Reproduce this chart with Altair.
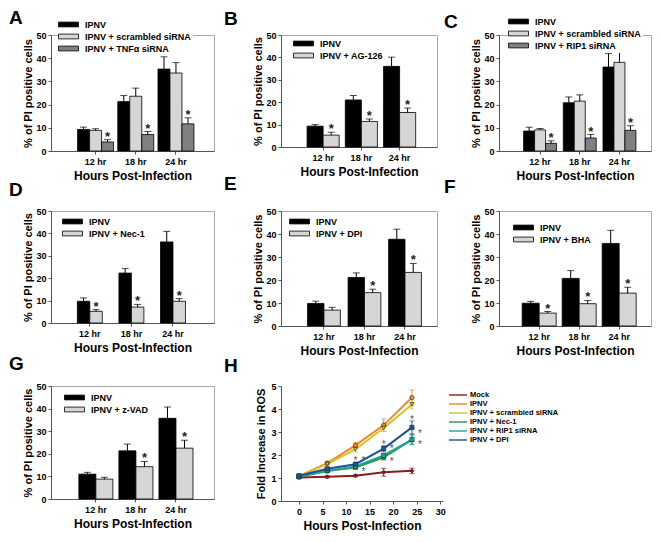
import altair as alt
import pandas as pd

FONT = "Liberation Sans"
times = ["12 hr", "18 hr", "24 hr"]
C_BLACK, C_LIGHT, C_DARK = "#000000", "#d6d6d6", "#808080"

# ---------------- Panel data (values = bar heights, err = upper error) ----------------
A_series = ["IPNV", "IPNV + scrambled siRNA", "IPNV + TNFα siRNA"]
A_ipnv = [9.3, 21.3, 35.3]
A_ipnv_err = [1.0, 2.6, 5.3]
A_scr = [8.9, 23.6, 33.6]
A_scr_err = [0.7, 3.5, 4.5]
A_trt = [3.9, 7.1, 11.7]
A_trt_err = [1.0, 1.3, 2.6]
A_star = [1, 1, 1]

B_series = ["IPNV", "IPNV + AG-126"]
B_ipnv = [9.3, 21.0, 36.0]
B_ipnv_err = [0.7, 2.0, 4.1]
B_trt = [5.3, 11.4, 15.4]
B_trt_err = [1.3, 1.1, 2.0]
B_star = [1, 1, 1]

C_series = ["IPNV", "IPNV + scrambled siRNA", "IPNV + RIP1 siRNA"]
C_ipnv = [8.6, 20.8, 36.2]
C_ipnv_err = [1.6, 2.5, 5.8]
C_scr = [9.1, 21.5, 38.2]
C_scr_err = [0.6, 2.7, 5.3]
C_trt = [3.3, 5.6, 8.9]
C_trt_err = [1.1, 1.5, 2.0]
C_star = [1, 1, 1]

D_series = ["IPNV", "IPNV + Nec-1"]
D_ipnv = [9.7, 22.3, 36.2]
D_ipnv_err = [1.5, 2.0, 4.7]
D_trt = [5.2, 7.1, 9.7]
D_trt_err = [0.8, 1.2, 1.2]
D_star = [1, 1, 1]

E_series = ["IPNV", "IPNV + DPI"]
E_ipnv = [9.8, 21.1, 37.7]
E_ipnv_err = [1.0, 2.0, 4.4]
E_trt = [6.9, 14.5, 23.3]
E_trt_err = [1.2, 1.5, 3.9]
E_star = [0, 1, 1]

F_series = ["IPNV", "IPNV + BHA"]
F_ipnv = [9.9, 20.7, 35.9]
F_ipnv_err = [0.8, 3.4, 5.7]
F_trt = [5.6, 9.7, 14.3]
F_trt_err = [0.7, 1.4, 2.6]
F_star = [1, 1, 1]

G_series = ["IPNV", "IPNV + z-VAD"]
G_ipnv = [11.0, 21.3, 35.7]
G_ipnv_err = [0.8, 3.0, 5.0]
G_trt = [8.8, 14.3, 22.5]
G_trt_err = [0.8, 2.3, 3.5]
G_star = [0, 1, 1]

# ---------------- Panel H (ROS time course) ----------------
H_hours = [0, 6, 12, 18, 24]
H_series = ["Mock", "IPNV", "IPNV + scrambled siRNA", "IPNV + Nec-1", "IPNV + RIP1 siRNA", "IPNV + DPI"]
H_colors = ["#8e1b22", "#f0882a", "#cfc427", "#2f9440", "#20a39c", "#1f5496"]
H_shapes = ["diamond", "circle", "triangle-down", "triangle-up", "square", "square"]
H_mock = [1.02, 1.05, 1.10, 1.25, 1.31]
H_mock_err = [0.04, 0.05, 0.05, 0.17, 0.12]
H_ipnv = [1.08, 1.65, 2.42, 3.30, 4.50]
H_ipnv_err = [0.05, 0.08, 0.12, 0.27, 0.33]
H_scr = [1.08, 1.60, 2.25, 3.17, 4.20]
H_scr_err = [0.05, 0.07, 0.12, 0.15, 0.20]
H_nec = [1.05, 1.30, 1.46, 1.90, 2.67]
H_nec_err = [0.05, 0.05, 0.07, 0.12, 0.20]
H_rip = [1.06, 1.32, 1.50, 1.98, 2.67]
H_rip_err = [0.05, 0.06, 0.07, 0.10, 0.22]
H_dpi = [1.10, 1.40, 1.60, 2.28, 3.20]
H_dpi_err = [0.04, 0.06, 0.08, 0.12, 0.28]
H_star = [0, 0, 1, 1, 1]

BAR_SYMBOL = "M-2.5,-0.6H2.5V0.6H-2.5Z"
LINE_SYMBOL = "M-3,0H3"

spacer_df = pd.DataFrame({"v": [0]})


def spacer(w, h):
    return alt.Chart(spacer_df).mark_point(opacity=0).encode(
        x=alt.value(0), y=alt.value(0)
    ).properties(width=w, height=h, view=alt.ViewBackground(stroke=None))


def letter_title(letter, dx, offset):
    return alt.TitleParams(letter, anchor="start", frame="group", dx=dx, offset=offset,
                           font=FONT, fontSize=19, fontWeight="bold", color="black")


def bar_panel(letter, series, colors, vals, errs, stars, w, h, pi, po, al, lx, ly, tdx, toff):
    rows = []
    for k, (s, v, e) in enumerate(zip(series, vals, errs)):
        for j, t in enumerate(times):
            st = "*" if (k == len(series) - 1 and stars[j]) else ""
            rows.append(dict(time=t, series=s, value=v[j], top=v[j] + e[j], star=st))
    df = pd.DataFrame(rows)
    n = len(series)
    step = w / (len(times) - pi + 2 * po)
    bw = step * (1 - pi) / n
    yscale = alt.Scale(domain=[0, 50], nice=False)
    yaxis = alt.Axis(title="% of PI positive cells", values=[0, 10, 20, 30, 40, 50],
                     tickSize=3, labelPadding=2, titlePadding=2, titleFontSize=11,
                     labelFontSize=9)
    xenc = alt.X("time:N", sort=times,
                 scale=alt.Scale(type="band", domain=times, paddingInner=pi, paddingOuter=po,
                                 align=al),
                 axis=alt.Axis(title="Hours Post-Infection", labelAngle=0, tickSize=3,
                               labelPadding=3, titlePadding=4, titleFontSize=12,
                               labelFontSize=9))
    fill = alt.Fill("series:N", sort=series,
                    scale=alt.Scale(domain=series, range=colors),
                    legend=alt.Legend(title=None, orient="none", legendX=lx, legendY=ly,
                                      direction="vertical", symbolType=BAR_SYMBOL,
                                      symbolSize=64, symbolStrokeColor="black",
                                      symbolStrokeWidth=0.8, labelFont=FONT,
                                      labelFontSize=9, labelFontWeight="bold",
                                      labelColor="black", labelOffset=12, rowPadding=2,
                                      fillColor="white", padding=2, symbolOpacity=1))
    base = alt.Chart(df).encode(x=xenc)
    bar_layers, deco_layers = [], []
    for k, s in enumerate(series):
        off = (k - (n - 1) / 2) * bw
        sub = base.transform_filter(alt.datum.series == s)
        bar_layers.append(sub.mark_bar(width=bw, xOffset=off, stroke="black",
                                       strokeWidth=0.8).encode(
            y=alt.Y("value:Q", scale=yscale, axis=yaxis), fill=fill))
        deco_layers.append(sub.mark_rule(color="black", strokeWidth=1, xOffset=off).encode(
            y=alt.Y("value:Q", scale=yscale, axis=yaxis), y2="top:Q"))
        deco_layers.append(sub.mark_tick(color="black", size=7, thickness=1,
                                         orient="horizontal", xOffset=off).encode(
            y=alt.Y("top:Q", scale=yscale, axis=yaxis)))
        deco_layers.append(sub.mark_text(font=FONT, fontSize=13, fontWeight="bold",
                                         baseline="alphabetic", dy=1, xOffset=off,
                                         color="#222").encode(
            y=alt.Y("top:Q", scale=yscale, axis=yaxis), text="star:N"))
    return alt.layer(*bar_layers, *deco_layers).properties(
        width=w, height=h, title=letter_title(letter, tdx, toff),
        view=alt.ViewBackground(stroke="#a8a8a8", strokeWidth=1))


def h_panel(w, h, xdom, lx, ly, tdx, toff):
    vals = [H_mock, H_ipnv, H_scr, H_nec, H_rip, H_dpi]
    errs = [H_mock_err, H_ipnv_err, H_scr_err, H_nec_err, H_rip_err, H_dpi_err]
    stars = [None, None, None, H_star, H_star, H_star]
    rows = []
    for s, v, e, st in zip(H_series, vals, errs, stars):
        for j, hr in enumerate(H_hours):
            rows.append(dict(series=s, hour=hr, value=v[j], lo=v[j] - e[j],
                             hi=v[j] + e[j], star="*" if (st is not None and st[j]) else ""))
    df = pd.DataFrame(rows)
    xs = alt.Scale(domain=xdom, nice=False, zero=False)
    ys = alt.Scale(domain=[0, 5], nice=False)
    cs = alt.Scale(domain=H_series, range=H_colors)
    leg = alt.Legend(title=None, orient="none", legendX=lx, legendY=ly, direction="vertical",
                     symbolType=LINE_SYMBOL, symbolSize=36, symbolStrokeWidth=2,
                     labelFont=FONT, labelFontSize=7.5, labelFontWeight="bold",
                     labelColor="black", labelOffset=8, rowPadding=1, padding=2)
    xax = alt.Axis(title="Hours Post-Infection", values=[0, 5, 10, 15, 20, 25, 30], tickSize=3,
                   labelPadding=3, titlePadding=4, titleFontSize=12, labelFontSize=9)
    yax = alt.Axis(title="Fold Increase in ROS", values=[0, 1, 2, 3, 4, 5], tickSize=3,
                   labelPadding=2, titlePadding=4, titleFontSize=11, labelFontSize=9)
    col = alt.Color("series:N", sort=H_series, scale=cs, legend=leg)
    base = alt.Chart(df).encode(x=alt.X("hour:Q", scale=xs, axis=xax))
    layers = [
        base.mark_line(strokeWidth=2).encode(y=alt.Y("value:Q", scale=ys, axis=yax), color=col),
        base.mark_rule(strokeWidth=1).encode(
            y=alt.Y("lo:Q", scale=ys, axis=yax), y2="hi:Q", color=col),
        base.mark_tick(size=5, thickness=1, orient="horizontal").encode(
            y=alt.Y("hi:Q", scale=ys, axis=yax), color=col),
        base.mark_tick(size=5, thickness=1, orient="horizontal").encode(
            y=alt.Y("lo:Q", scale=ys, axis=yax), color=col),
    ]
    for s, c, shp in zip(H_series, H_colors, H_shapes):
        layers.append(base.transform_filter(alt.datum.series == s).mark_point(
            filled=True, shape=shp, size=18, fill=c, stroke="#222", strokeWidth=0.6,
            opacity=1).encode(y=alt.Y("value:Q", scale=ys, axis=yax)))
    layers.append(base.transform_filter(alt.datum.series == "IPNV + DPI").mark_text(
        font=FONT, fontSize=10, baseline="alphabetic", dy=2, color="#555").encode(
        y=alt.Y("hi:Q", scale=ys, axis=yax), text="star:N"))
    layers.append(base.transform_filter(alt.datum.series == "IPNV + RIP1 siRNA").mark_text(
        font=FONT, fontSize=10, baseline="middle", dx=8, dy=-6, color="#555").encode(
        y=alt.Y("value:Q", scale=ys, axis=yax), text="star:N"))
    layers.append(base.transform_filter(alt.datum.series == "IPNV + Nec-1").mark_text(
        font=FONT, fontSize=10, baseline="middle", dx=8, dy=5, color="#555").encode(
        y=alt.Y("value:Q", scale=ys, axis=yax), text="star:N"))
    return alt.layer(*layers).properties(
        width=w, height=h, title=letter_title("H", tdx, toff),
        view=alt.ViewBackground(stroke=None))


pA = bar_panel("A", A_series, [C_BLACK, C_LIGHT, C_DARK], [A_ipnv, A_scr, A_trt],
               [A_ipnv_err, A_scr_err, A_trt_err], A_star, 163, 116, 0.105, 0.58, 0.57,
               11, -17, -42, -10)
pB = bar_panel("B", B_series, [C_BLACK, C_LIGHT], [B_ipnv, B_trt], [B_ipnv_err, B_trt_err],
               B_star, 156, 112, 0.16, 0.62, 0.55, 16, 2, -57, 2)
pC = bar_panel("C", C_series, [C_BLACK, C_LIGHT, C_DARK], [C_ipnv, C_scr, C_trt],
               [C_ipnv_err, C_scr_err, C_trt_err], C_star, 152, 116, 0.17, 0.50, 0.62,
               13, -20, -55, -17)
pD = bar_panel("D", D_series, [C_BLACK, C_LIGHT], [D_ipnv, D_trt], [D_ipnv_err, D_trt_err],
               D_star, 163, 112, 0.40, 0.66, 0.48, 15, 4, -42, 7)
pE = bar_panel("E", E_series, [C_BLACK, C_LIGHT], [E_ipnv, E_trt], [E_ipnv_err, E_trt_err],
               E_star, 156, 115, 0.19, 0.52, 0.63, 12, 4, -57, 13)
pF = bar_panel("F", F_series, [C_BLACK, C_LIGHT], [F_ipnv, F_trt], [F_ipnv_err, F_trt_err],
               F_star, 152, 115, 0.15, 0.475, 0.61, 18, 10, -55, 10)
pG = bar_panel("G", G_series, [C_BLACK, C_LIGHT], [G_ipnv, G_trt], [G_ipnv_err, G_trt_err],
               G_star, 163, 113, 0.15, 0.61, 0.57, 17, 5, -42, 8)
pH = h_panel(162, 115, [-3.83, 30.6], 171, 3, -57, 6)

S = spacer
cells = [
    pA, S(67, 1), pB, S(56, 1), pC,
    S(163, 60), S(67, 1), S(1, 1), S(56, 1), S(1, 1),
    pD, S(67, 1), pE, S(56, 1), pF,
    S(1, 60), S(1, 1), S(1, 1), S(1, 1), S(1, 1),
    pG, S(67, 1), pH, S(56, 1), S(1, 1),
]

chart = alt.concat(*cells, columns=5, spacing=0, bounds="flush", align="each").resolve_scale(
    fill="independent", color="independent"
).resolve_legend(fill="independent", color="independent").properties(
    padding=0
).configure_view(stroke=None).configure_axis(
    labelFont=FONT, titleFont=FONT, labelFontWeight="bold", titleFontWeight="bold",
    labelColor="black", titleColor="black", grid=False, domainColor="#555555",
    tickColor="#555555"
)

chart.save("out.html", embed_options={"renderer": "svg", "actions": False})
